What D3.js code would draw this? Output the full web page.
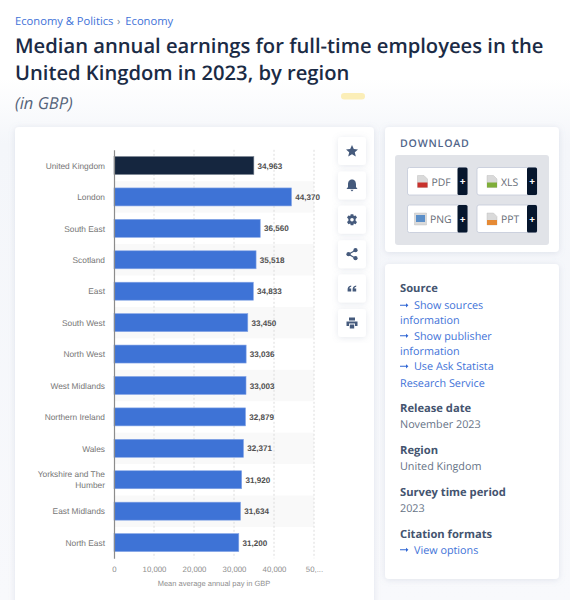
<!DOCTYPE html>
<html>
<head>
<meta charset="utf-8">
<script src="https://cdnjs.cloudflare.com/ajax/libs/d3/7.8.5/d3.min.js"></script>
<style>
  html, body { margin: 0; padding: 0; background: #fff; }
  svg { display: block; }
  text { font-family: "Open Sans", sans-serif; text-rendering: geometricPrecision; }
  .chart text { font-family: "Liberation Sans", Arial, sans-serif; }
</style>
</head>
<body>
<svg id="page" width="570" height="600"></svg>
<script>
const regions = ["United Kingdom", "London", "South East", "Scotland", "East", "South West", "North West",
  "West Midlands", "Northern Ireland", "Wales", "Yorkshire and The Humber", "East Midlands", "North East"];
const earnings = [34963, 44370, 36560, 35518, 34833, 33450, 33036, 33003, 32879, 32371, 31920, 31634, 31200];
const xTicks = [0, 10000, 20000, 30000, 40000, 50000];
const xTickLabels = ["0", "10,000", "20,000", "30,000", "40,000", "50,..."];
const xTitle = "Mean average annual pay in GBP";

const breadcrumb = ["Economy & Politics", "›", "Economy"];
const titleLines = ["Median annual earnings for full-time employees in the", "United Kingdom in 2023, by region"];
const subtitle = "(in GBP)";
const downloads = ["PDF", "XLS", "PNG", "PPT"];
const downloadColors = ["#c8322d", "#7fae3a", "#5b8fc9", "#e58a35"];

const svg = d3.select("#page");
const defs = svg.append("defs");

const bg = defs.append("linearGradient").attr("id", "bg").attr("x1", 0).attr("y1", 0).attr("x2", 0).attr("y2", 1);
bg.append("stop").attr("offset", "0%").attr("stop-color", "#ffffff");
bg.append("stop").attr("offset", "13%").attr("stop-color", "#ffffff");
bg.append("stop").attr("offset", "24%").attr("stop-color", "#f4f6fa");
bg.append("stop").attr("offset", "100%").attr("stop-color", "#f8f9fc");

const shadow = defs.append("filter").attr("id", "shadow")
  .attr("x", "-20%").attr("y", "-20%").attr("width", "140%").attr("height", "140%");
shadow.append("feDropShadow").attr("dx", 0).attr("dy", 1).attr("stdDeviation", 3)
  .attr("flood-color", "#8a96b0").attr("flood-opacity", 0.22);

svg.append("rect").attr("width", 570).attr("height", 600).attr("fill", "url(#bg)");

// header
const crumbs = svg.append("text").attr("x", 15).attr("y", 24.5).attr("font-size", 11.2).attr("fill", "#3f73d8");
crumbs.append("tspan").text(breadcrumb[0]);
crumbs.append("tspan").attr("dx", 3.5).attr("fill", "#6b7a90").text(breadcrumb[1]);
crumbs.append("tspan").attr("dx", 5).text(breadcrumb[2]);

svg.selectAll(".title").data(titleLines).join("text")
  .attr("class", "title")
  .attr("x", 15)
  .attr("y", (d, i) => 53 + i * 27.2)
  .attr("font-size", 20.2)
  .attr("font-weight", 600)
  .attr("fill", "#1b2b45")
  .text(d => d);

svg.append("text").attr("x", 15).attr("y", 109).attr("font-size", 16.5).attr("font-style", "italic")
  .attr("fill", "#55637a").text(subtitle);

svg.append("rect").attr("x", 341).attr("y", 93).attr("width", 24).attr("height", 6.5).attr("rx", 3.2)
  .attr("fill", "#fbeeb8");

// cards
const card = (x, y, w, h) => svg.append("rect").attr("x", x).attr("y", y).attr("width", w).attr("height", h)
  .attr("rx", 4).attr("fill", "#fff").attr("filter", "url(#shadow)");
card(15, 127, 359, 490);
card(385, 127, 174, 125);
card(385, 264, 174, 315);

// chart
const margin = { top: 149.8, left: 114 };
const innerHeight = 408.5;

const x = d3.scaleLinear().domain([0, 50000]).range([0, 200]);
const y = d3.scaleBand().domain(regions).range([0, innerHeight]).paddingInner(0).paddingOuter(0);

const chart = svg.append("g").attr("class", "chart").attr("transform", `translate(${margin.left},${margin.top})`);

// zebra rows
chart.append("g").selectAll("rect").data(regions.filter((d, i) => i % 2 === 1)).join("rect")
  .attr("x", 0)
  .attr("y", d => y(d))
  .attr("width", 200)
  .attr("height", y.bandwidth())
  .attr("fill", "#f9f9f9");

// grid
chart.append("g").selectAll("line").data(xTicks.slice(1)).join("line")
  .attr("x1", d => x(d)).attr("x2", d => x(d))
  .attr("y1", 0).attr("y2", innerHeight)
  .attr("stroke", "#dcdcdc")
  .attr("stroke-dasharray", "2,2");

const barHeight = 18;
chart.append("g").selectAll("rect").data(earnings).join("rect")
  .attr("x", 0)
  .attr("y", (d, i) => y(regions[i]) + (y.bandwidth() - barHeight) / 2)
  .attr("width", d => x(d))
  .attr("height", barHeight)
  .attr("fill", (d, i) => i === 0 ? "#15263f" : "#3e73d6")
  .attr("stroke", (d, i) => i === 0 ? "#7c8593" : "#86a6e6")
  .attr("stroke-width", 0.6);

chart.append("g").selectAll("text").data(earnings).join("text")
  .attr("x", d => x(d) + 3.7)
  .attr("y", (d, i) => y(regions[i]) + y.bandwidth() / 2)
  .attr("dy", "0.38em")
  .attr("font-size", 8.1)
  .attr("font-weight", 700)
  .attr("fill", "#505050")
  .text(d3.format(","));

// category axis
const yAxis = chart.append("g")
  .call(d3.axisLeft(y).tickSize(0).tickPadding(9));
yAxis.select(".domain").attr("stroke", "#8c8c8c").attr("stroke-width", 1.2);
yAxis.selectAll("text")
  .attr("font-size", 8.35)
  .attr("fill", "#777777")
  .attr("dy", "0.38em")
  .attr("font-family", null)
  .each(function (d) {
    if (d.length < 20) return;
    const words = d.split(" ");
    const t = d3.select(this).attr("dy", null).text(null);
    t.append("tspan").attr("x", -9).attr("dy", "-0.27em").text(words.slice(0, 3).join(" "));
    t.append("tspan").attr("x", -9).attr("dy", "1.25em").text(words.slice(3).join(" "));
  });

// value axis
const xAxis = chart.append("g")
  .attr("transform", `translate(0,${innerHeight})`)
  .call(d3.axisBottom(x).tickValues(xTicks).tickSize(0).tickPadding(8)
    .tickFormat((d, i) => xTickLabels[i]));
xAxis.select(".domain").remove();
xAxis.selectAll("text").attr("font-size", 7.8).attr("fill", "#8f8f8f").attr("font-family", null);

svg.append("text").attr("class", "axis-title")
  .attr("x", 214).attr("y", 586)
  .attr("text-anchor", "middle")
  .attr("font-size", 7.5)
  .attr("fill", "#8f8f8f")
  .style("font-family", "'Liberation Sans', Arial, sans-serif")
  .text(xTitle);

// tool buttons
const iconColor = "#455a7c";
const icons = [
  "M0,-6 L1.8,-2 L6,-1.6 L2.8,1.2 L3.8,5.5 L0,3.2 L-3.8,5.5 L-2.8,1.2 L-6,-1.6 L-1.8,-2 Z",
  "M0,-6 C3,-6 4,-3.5 4,-1 L4,1.5 L5.5,3.5 L-5.5,3.5 L-4,1.5 L-4,-1 C-4,-3.5 -3,-6 0,-6 Z M-1.6,4.3 L1.6,4.3 L0,6 Z",
  "M-1.3,-5.5 L1.3,-5.5 L1.8,-3.7 L3.6,-4.4 L5,-2.2 L3.6,-0.9 L3.6,0.9 L5,2.2 L3.6,4.4 L1.8,3.7 L1.3,5.5 L-1.3,5.5 L-1.8,3.7 L-3.6,4.4 L-5,2.2 L-3.6,0.9 L-3.6,-0.9 L-5,-2.2 L-3.6,-4.4 L-1.8,-3.7 Z",
  "",
  "M-0.8,-3.2 C-3.2,-2.8 -4.4,-1.2 -4.4,0.6 L-4.4,3 L-0.8,3 L-0.8,-0.2 L-2.6,-0.2 C-2.5,-1 -1.8,-1.6 -0.8,-1.8 Z M4.2,-3.2 C1.8,-2.8 0.6,-1.2 0.6,0.6 L0.6,3 L4.2,3 L4.2,-0.2 L2.4,-0.2 C2.5,-1 3.2,-1.6 4.2,-1.8 Z",
  "M-3,-5.5 L3,-5.5 L3,-2.5 L-3,-2.5 Z M-5.5,-1.5 L5.5,-1.5 L5.5,3 L3,3 L3,0.5 L-3,0.5 L-3,3 L-5.5,3 Z M-2.2,1.5 L2.2,1.5 L2.2,5.5 L-2.2,5.5 Z"
];
const tools = svg.append("g").selectAll("g").data(icons).join("g")
  .attr("transform", (d, i) => `translate(352,${151 + i * 34.4})`);
tools.append("rect").attr("x", -14).attr("y", -14).attr("width", 28).attr("height", 28).attr("rx", 3)
  .attr("fill", "#fff").attr("filter", "url(#shadow)");
tools.append("path").attr("d", d => d).attr("fill", iconColor);
tools.filter((d, i) => i === 2).append("circle").attr("r", 1.8).attr("fill", "#fff");
const share = tools.filter((d, i) => i === 3);
share.append("path").attr("d", "M3.5,-4 L-3.5,0 L3.5,4").attr("fill", "none").attr("stroke", iconColor).attr("stroke-width", 1.2);
share.selectAll("circle").data([[3.5, -4], [-3.5, 0], [3.5, 4]]).join("circle")
  .attr("cx", d => d[0]).attr("cy", d => d[1]).attr("r", 2.1).attr("fill", iconColor);

// download box
svg.append("text").attr("x", 400).attr("y", 147).attr("font-size", 10.6).attr("font-weight", 600)
  .attr("letter-spacing", 0.8).attr("fill", "#51658a").text("DOWNLOAD");
svg.append("rect").attr("x", 395).attr("y", 155).attr("width", 154).attr("height", 90).attr("rx", 3).attr("fill", "#e1e3e8");

const btn = svg.append("g").selectAll("g").data(downloads).join("g")
  .attr("transform", (d, i) => `translate(${i % 2 ? 477 : 407.5},${i < 2 ? 167.5 : 205})`);
btn.append("rect").attr("width", 60).attr("height", 27.5).attr("rx", 2)
  .attr("fill", "#fff").attr("stroke", "#c3c9d8").attr("stroke-width", 0.8);
btn.append("rect").attr("x", 50).attr("width", 10).attr("height", 27.5).attr("rx", 1.5).attr("fill", "#06162d");
btn.append("text").attr("x", 55).attr("y", 17.5).attr("text-anchor", "middle").attr("font-size", 10)
  .attr("font-weight", 700).attr("fill", "#fff").text("+");
btn.append("text").attr("x", (d, i) => i === 2 ? 22.5 : 24).attr("y", 18).attr("font-size", 10.4).attr("fill", "#666c76").text(d => d);
btn.append("path").attr("d", (d, i) => i === 2
    ? "M7,8 h12 v12 h-12 Z"
    : "M10,8 h6.5 l3.5,3.5 v8.5 h-10 Z")
  .attr("fill", "#dadada").attr("stroke", "#b5b5b5").attr("stroke-width", 0.4);
btn.append("rect")
  .attr("x", (d, i) => i === 2 ? 8.5 : 10)
  .attr("y", (d, i) => i === 2 ? 10 : 15)
  .attr("width", (d, i) => i === 2 ? 9 : 10)
  .attr("height", (d, i) => i === 2 ? 7 : 5)
  .attr("fill", (d, i) => downloadColors[i]);

// side information
const sideRows = [
  { text: "Source", y: 292, type: "head" },
  { text: "Show sources", y: 309, type: "arrow" },
  { text: "information", y: 324, type: "link" },
  { text: "Show publisher", y: 339.5, type: "arrow" },
  { text: "information", y: 355, type: "link" },
  { text: "Use Ask Statista", y: 370, type: "arrow" },
  { text: "Research Service", y: 386.5, type: "link" },
  { text: "Release date", y: 412, type: "head" },
  { text: "November 2023", y: 428, type: "plain" },
  { text: "Region", y: 454, type: "head" },
  { text: "United Kingdom", y: 470, type: "plain" },
  { text: "Survey time period", y: 496, type: "head" },
  { text: "2023", y: 512, type: "plain" },
  { text: "Citation formats", y: 538, type: "head" },
  { text: "View options", y: 553.5, type: "arrow" }
];
svg.append("g").selectAll("text").data(sideRows).join("text")
  .attr("x", d => d.type === "arrow" ? 414 : 400)
  .attr("y", d => d.y)
  .attr("font-size", d => d.type === "head" ? 11.2 : 10.8)
  .attr("font-weight", d => d.type === "head" ? 700 : 400)
  .attr("fill", d => d.type === "head" ? "#44546f" : d.type === "plain" ? "#667386" : "#3f73d8")
  .text(d => d.text);

svg.append("g").selectAll("path").data(sideRows.filter(d => d.type === "arrow")).join("path")
  .attr("d", d => `M400,${d.y - 4.2} h6 v-1.6 l2.4,2.1 l-2.4,2.1 v-1.6 h-6 Z`)
  .attr("fill", "#2f66d4");
</script>
</body>
</html>
